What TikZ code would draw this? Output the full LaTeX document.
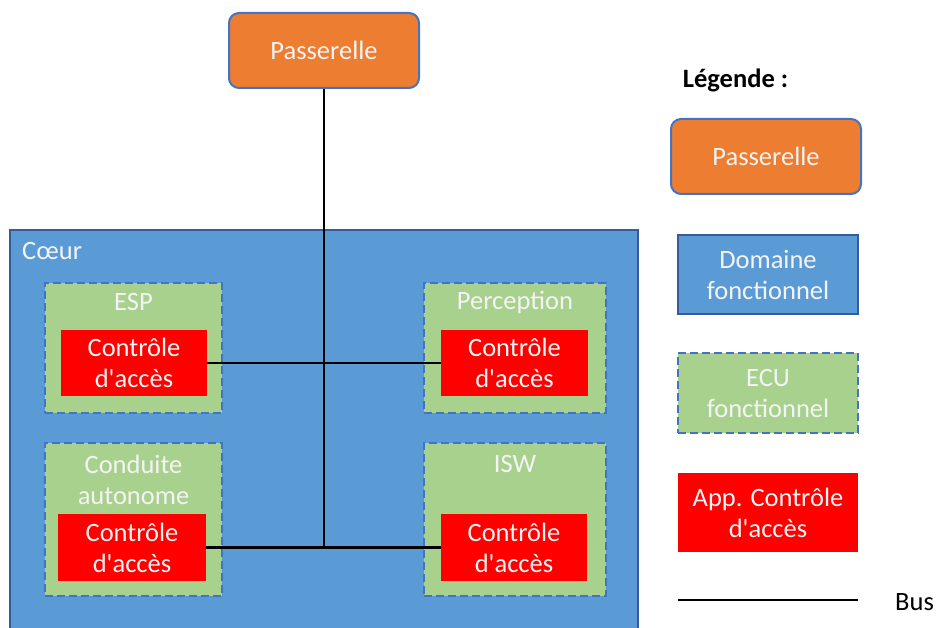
\documentclass[tikz,border=0pt]{standalone}
\usepackage{fontspec}
\newfontfamily\carlito{Carlito}
\usepackage{tikz}
\usetikzlibrary{positioning, calc}

\definecolor{orangeP}{HTML}{ED7D31}
\definecolor{bleuD}{HTML}{5B9BD5}
\definecolor{bordB}{HTML}{4472C4}
\definecolor{vertE}{HTML}{A9D18E}
\definecolor{texteB}{HTML}{F4F4F4}

\tikzset{
    passbox/.style={draw=bordB, line width=2pt, fill=orangeP, rounded corners=10pt, text=texteB, align=center},
    domainbox/.style={draw=bordB!80!black, line width=1.5pt, fill=bleuD, text=texteB, align=center},
    ecubox/.style={draw=bordB, line width=2pt, dash pattern=on 8pt off 4pt, fill=vertE, text=texteB, align=center},
    accbox/.style={fill=red, text=texteB, align=center},
    bus/.style={line width=2.6pt, black},
}

\begin{document}
\begin{tikzpicture}[x=1pt, y=-1pt, font=\carlito\fontsize{26.5}{31}\selectfont, inner sep=0pt]

            \useasboundingbox (0,0) rectangle (936,628);

            % --- Passerelle ---
            \node[passbox, minimum width=190pt, minimum height=75pt] (passerelle) at (324, 50.5) {Passerelle};

            % --- Domaine Coeur ---
            \node[domainbox, minimum width=628pt, minimum height=410pt] (coeur) at (324, 435) {};
            \node[text=texteB, anchor=west] (coeurlbl) at (22, 251) {Cœur};

            % --- ECU fonctionnels ---
            \node[ecubox, minimum width=177pt, minimum height=130pt] (esp) at (133.5, 348) {};
            \node[ecubox, minimum width=182pt, minimum height=130pt] (perception) at (515, 348) {};
            \node[ecubox, minimum width=177pt, minimum height=153pt] (conduite) at (133.5, 519.5) {};
            \node[ecubox, minimum width=182pt, minimum height=153pt] (isw) at (515, 519.5) {};

            \node[text=texteB] (esplbl) at (133.5, 302) {ESP};
            \node[text=texteB] (perceptionlbl) at (515, 302) {Perception};
            \node[text=texteB, align=center] (conduitelbl) at (133.5, 480) {Conduite\\autonome};
            \node[text=texteB] (iswlbl) at (515, 464) {ISW};

            % --- Controle d'acces ---
            \node[accbox, minimum width=146pt, minimum height=66pt] (caesp) at (134, 363) {Contrôle\\d'accès};
            \node[accbox, minimum width=147pt, minimum height=66pt] (caper) at (514.5, 363) {Contrôle\\d'accès};
            \node[accbox, minimum width=148pt, minimum height=67pt] (cacond) at (132, 547.5) {Contrôle\\d'accès};
            \node[accbox, minimum width=146pt, minimum height=67pt] (caisw) at (514, 547.5) {Contrôle\\d'accès};

            % --- Bus ---
            \coordinate (busend) at (324, 547.5);
            \draw[bus] (passerelle.south) -- (busend);
            \draw[bus] (caesp.east) -- (caper.west);
            \draw[bus] (cacond.east) -- (caisw.west);

            % --- Legende ---
            \node[font=\carlito\fontsize{26.5}{31}\selectfont\bfseries] (legende) at (735.5, 80) {Légende :};
            \node[passbox, minimum width=190pt, minimum height=75pt] (legpass) at (766, 156.5) {Passerelle};
            \node[domainbox, minimum width=180pt, minimum height=79pt] (legdom) at (768, 274.5) {Domaine\\fonctionnel};
            \node[ecubox, minimum width=180pt, minimum height=80pt] (legecu) at (768, 393) {ECU\\fonctionnel};
            \node[accbox, minimum width=180pt, minimum height=79pt] (legacc) at (768, 512.5) {App. Contrôle\\d'accès};
            \coordinate (legbusA) at (678, 600);
            \coordinate (legbusB) at (858, 600);
            \draw[bus] (legbusA) -- (legbusB);
            \node[anchor=west] (legbus) at (895, 602) {Bus};

\end{tikzpicture}
\end{document}
